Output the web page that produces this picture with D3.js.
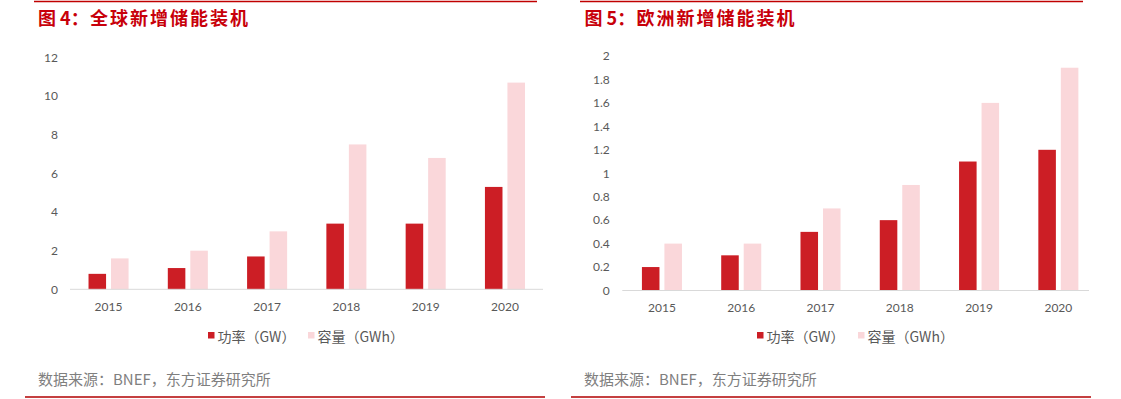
<!DOCTYPE html>
<html><head><meta charset="utf-8">
<script src="https://cdn.jsdelivr.net/npm/d3@7"></script>
<style>
body{margin:0;background:#fff;}
svg{display:block;}
text{font-family:"Noto Sans CJK SC","Noto Sans",sans-serif;}
.num{font-family:Lato,"Noto Sans",sans-serif;}
</style></head>
<body>
<script>
const years = ["2015","2016","2017","2018","2019","2020"];
const seriesNames = ["功率（GW）","容量（GWh）"];
const globalPower = [0.8,1.1,1.7,3.4,3.4,5.3];
const globalCapacity = [1.6,2.0,3.0,7.5,6.8,10.7];
const europePower = [0.2,0.3,0.5,0.6,1.1,1.2];
const europeCapacity = [0.4,0.4,0.7,0.9,1.6,1.9];
const globalTicks = [0,2,4,6,8,10,12];
const europeTicks = [0,0.2,0.4,0.6,0.8,1,1.2,1.4,1.6,1.8,2];
const titleHeads = ["图 4：","图 5："];
const titleBodies = ["全球新增储能装机","欧洲新增储能装机"];
const sourceText = "数据来源：BNEF，东方证券研究所";

const W=1121,H=399;
const RED="#cc1e25", PINK="#fad7da", TITLE="#c8000a", GRAY="#595959";
const svg=d3.select("body").append("svg").attr("width",W).attr("height",H);

function panel(o){
  const g=svg.append("g");
  g.append("line").attr("x1",o.topLine[0]).attr("x2",o.topLine[1]).attr("y1",1.5).attr("y2",1.5)
    .attr("stroke","#c00000").attr("stroke-width",1.3);
  g.append("line").attr("x1",o.botLine[0]).attr("x2",o.botLine[1]).attr("y1",397).attr("y2",397)
    .attr("stroke","#b00000").attr("stroke-width",1.3);
  const t=g.append("text").attr("y",24.5).attr("fill",TITLE).attr("font-size",18).attr("font-weight","bold");
  t.append("tspan").attr("x",o.titleX).text(o.head);
  t.append("tspan").attr("x",o.titleX+52).attr("letter-spacing",2).text(o.body);

  const x=d3.scaleBand().domain(years).range([o.bx0,o.bx1]).paddingInner(0.495).paddingOuter(0.2475);
  const xs=d3.scaleBand().domain([0,1]).range([0,x.bandwidth()]).paddingInner(0.22);
  const y=d3.scaleLinear().domain([o.ticks[0],o.ticks[o.ticks.length-1]]).range([o.y0,o.y1]);

  const data=years.map((yr,i)=>({yr,vals:[o.power[i],o.cap[i]]}));
  const grp=g.append("g").selectAll("g").data(data).join("g")
    .attr("transform",d=>`translate(${x(d.yr)},0)`);
  grp.selectAll("rect").data(d=>d.vals.map((v,k)=>({v,k}))).join("rect")
    .attr("x",d=>xs(d.k)).attr("width",xs.bandwidth())
    .attr("y",d=>y(d.v)).attr("height",d=>y(0)-y(d.v))
    .attr("fill",d=>d.k===0?RED:PINK);

  g.append("line").attr("x1",o.ax0).attr("x2",o.ax1).attr("y1",y(0)).attr("y2",y(0))
    .attr("stroke","#d9d9d9").attr("stroke-width",1);

  const ya=g.append("g").attr("transform",`translate(${o.ax0},0)`)
    .call(d3.axisLeft(y).tickValues(o.ticks).tickSize(0).tickPadding(o.yPad).tickFormat(d=>String(d)));
  ya.select(".domain").remove();
  ya.selectAll("text").attr("class","num").attr("fill",GRAY).attr("font-size",12);

  const xa=g.append("g").attr("transform",`translate(0,${y(0)})`)
    .call(d3.axisBottom(x).tickSize(0).tickPadding(13));
  xa.select(".domain").remove();
  xa.selectAll("text").attr("class","num").attr("fill",GRAY).attr("font-size",12);

  const lg=g.append("g");
  seriesNames.forEach((n,k)=>{
    const lx=o.legX[k];
    lg.append("rect").attr("x",lx).attr("y",332).attr("width",6.5).attr("height",6.5).attr("fill",k===0?RED:PINK);
    lg.append("text").attr("x",lx+9.5).attr("y",341.5).attr("fill",GRAY).attr("font-size",14).text(n);
  });

  g.append("text").attr("x",o.srcX).attr("y",385).attr("fill","#7f7f7f").attr("font-size",15).text(sourceText);
}

panel({head:titleHeads[0],body:titleBodies[0],titleX:38,topLine:[34,537],botLine:[25,545],
  bx0:68.9,bx1:544.6,ax0:70,ax1:543,y0:289.3,y1:57.5,ticks:globalTicks,yPad:12,
  power:globalPower,cap:globalCapacity,legX:[208,308],srcX:38});
panel({head:titleHeads[1],body:titleBodies[1],titleX:584.5,topLine:[580,1083],botLine:[571,1091],
  bx0:622.3,bx1:1098,ax0:622.3,ax1:1089,y0:290.5,y1:56,ticks:europeTicks,yPad:12.5,
  power:europePower,cap:europeCapacity,legX:[757,858],srcX:584});
</script>
</body></html>
